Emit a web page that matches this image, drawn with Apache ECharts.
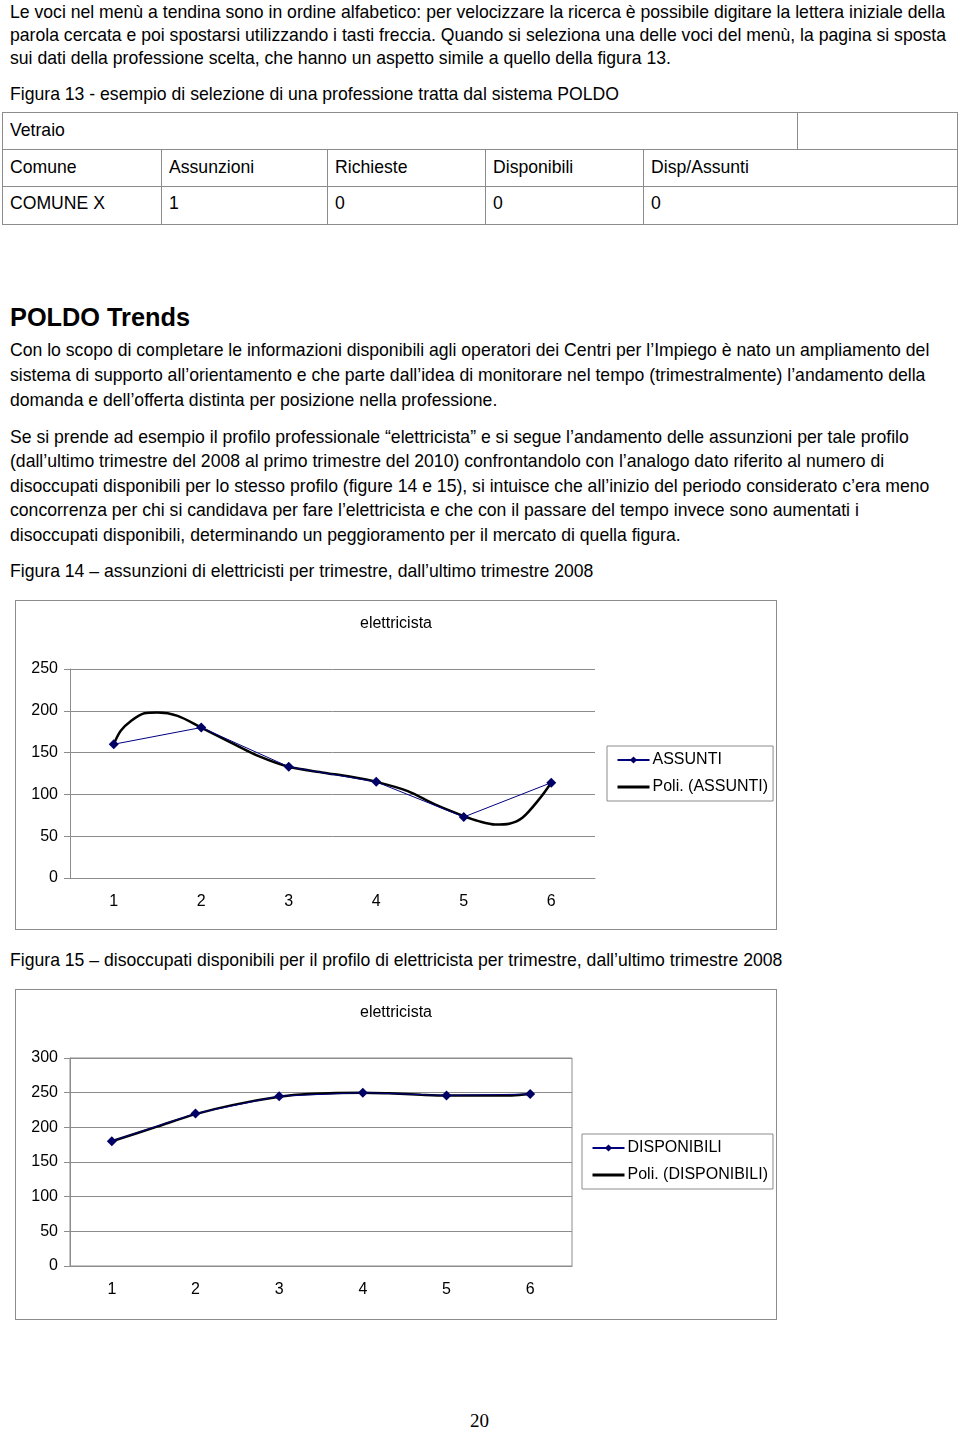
<!DOCTYPE html>
<html>
<head>
<meta charset="utf-8">
<script src="https://cdn.jsdelivr.net/npm/echarts@6/dist/echarts.min.js"></script>
<style>
  html, body { margin:0; padding:0; background:#fff; }
  body { width:960px; height:1429px; position:relative; overflow:hidden; font-family:"Liberation Sans", Arial, sans-serif; color:#000; }
  .ln { position:absolute; white-space:nowrap; font-size:19px; line-height:24px; height:24px; transform-origin:0 50%; }
  .bold { font-weight:bold; font-size:25px; line-height:30px; height:30px; }
  .cell { position:absolute; border:1px solid #8c8c8c; box-sizing:border-box; }
  .chartbox { position:absolute; border:1px solid #8c8c8c; box-sizing:border-box; }
  .pg { position:absolute; font-family:"Liberation Serif", serif; font-size:19px; line-height:24px; }
</style>
</head>
<body>
<div id="page"></div>
<div class="chartbox" id="c1" style="left:15px;top:600px;width:762px;height:330px;"></div>
<div class="chartbox" id="c2" style="left:15px;top:989px;width:762px;height:331px;"></div>
<div class="pg" style="left:470px;top:1409px;">20</div>
<script>
// ---------------- data ----------------
const quarters = ['1', '2', '3', '4', '5', '6'];
const assunti = [160, 180, 133, 115, 73, 114];
const disponibili = [180, 220, 245, 250, 246, 248];
const yTicksAssunti = { min: 0, max: 250, step: 50 };
const yTicksDisp = { min: 0, max: 300, step: 50 };
// polynomial trend lines
const trendAssuntiX = [1, 1.08, 1.2, 1.35, 1.5, 1.73, 2, 2.34, 2.65, 3, 3.4, 3.71, 4, 4.36, 4.67, 5, 5.17, 5.36, 5.52, 5.67, 5.86, 6];
const trendAssuntiY = [160, 176, 188, 197, 198, 194, 180, 162, 146, 133, 126, 121, 115, 104, 88, 74, 68, 64, 65, 72, 94, 114];
const trendDispX = [1, 1.54, 2, 2.44, 3, 3.35, 4, 4.31, 4.7, 5, 5.3, 5.78, 6];
const trendDispY = [180, 201, 219, 232, 244, 248, 250, 249, 247, 246, 246, 246, 248];

// ---------------- text ----------------
const lines = [
  [12, 'Le voci nel menù a tendina sono in ordine alfabetico: per velocizzare la ricerca è possibile digitare la lettera iniziale della'],
  [35, 'parola cercata e poi spostarsi utilizzando i tasti freccia. Quando si seleziona una delle voci del menù, la pagina si sposta'],
  [58, 'sui dati della professione scelta, che hanno un aspetto simile a quello della figura 13.'],
  [94, 'Figura 13 - esempio di selezione di una professione tratta dal sistema POLDO'],
  [350, 'Con lo scopo di completare le informazioni disponibili agli operatori dei Centri per l’Impiego è nato un ampliamento del'],
  [375, 'sistema di supporto all’orientamento e che parte dall’idea di monitorare nel tempo (trimestralmente) l’andamento della'],
  [400, 'domanda e dell’offerta distinta per posizione nella professione.'],
  [437, 'Se si prende ad esempio il profilo professionale “elettricista” e si segue l’andamento delle assunzioni per tale profilo'],
  [461, '(dall’ultimo trimestre del 2008 al primo trimestre del 2010) confrontandolo con l’analogo dato riferito al numero di'],
  [486, 'disoccupati disponibili per lo stesso profilo (figure 14 e 15), si intuisce che all’inizio del periodo considerato c’era meno'],
  [510, 'concorrenza per chi si candidava per fare l’elettricista e che con il passare del tempo invece sono aumentati i'],
  [535, 'disoccupati disponibili, determinando un peggioramento per il mercato di quella figura.'],
  [571, 'Figura 14 – assunzioni di elettricisti per trimestre, dall’ultimo trimestre 2008'],
  [960, 'Figura 15 – disoccupati disponibili per il profilo di elettricista per trimestre, dall’ultimo trimestre 2008']
];
const tableCells = [
  [2, 112, 798, 150, 'Vetraio'], [797, 112, 958, 150, ''],
  [2, 149, 162, 187, 'Comune'], [161, 149, 328, 187, 'Assunzioni'], [327, 149, 486, 187, 'Richieste'], [485, 149, 644, 187, 'Disponibili'], [643, 149, 958, 187, 'Disp/Assunti'],
  [2, 186, 162, 225, 'COMUNE X'], [161, 186, 328, 225, '1'], [327, 186, 486, 225, '0'], [485, 186, 644, 225, '0'], [643, 186, 958, 225, '0']
];
const tableTextY = [130, 167, 203];

const page = document.getElementById('page');
const els = [];
function addLine(y, txt, x, cls) {
  const d = document.createElement('div');
  d.className = 'ln' + (cls ? ' ' + cls : '');
  d.textContent = txt;
  d.style.left = x + 'px';
  d.style.top = (y - (cls ? 15 : 12)) + 'px';
  page.appendChild(d);
  return d;
}
lines.forEach(l => els.push(addLine(l[0], l[1], 10)));
tableCells.forEach(c => {
  const d = document.createElement('div');
  d.className = 'cell';
  d.style.left = c[0] + 'px'; d.style.top = c[1] + 'px';
  d.style.width = (c[2] - c[0]) + 'px'; d.style.height = (c[3] - c[1]) + 'px';
  page.appendChild(d);
  if (c[4]) {
    const ty = c[1] < 140 ? tableTextY[0] : (c[1] < 180 ? tableTextY[1] : tableTextY[2]);
    els.push(addLine(ty, c[4], c[0] + 8));
  }
});
const title = addLine(317, 'POLDO Trends', 10, 'bold');

// horizontal compression to match the reference glyph proportions
const w1 = els[0].getBoundingClientRect().width;
const k = 935 / w1;
els.forEach(e => e.style.transform = 'scaleX(' + k + ')');
const wt = title.getBoundingClientRect().width;
title.style.transform = 'scaleX(' + (180 / wt) + ')';

// ---------------- charts ----------------
const FONT = '"Liberation Sans", Arial, sans-serif';
function makeOption(cfg) {
  const polyName = 'Poli. (' + cfg.name + ')';
  return {
    animation: false,
    textStyle: { fontFamily: FONT, color: '#000' },
    title: { text: 'elettricista', left: 'center', top: cfg.titleTop,
      textStyle: { fontSize: 16, fontWeight: 'normal', color: '#000', fontFamily: FONT } },
    grid: Object.assign({ show: cfg.border, borderColor: '#8c8c8c', borderWidth: 1, backgroundColor: 'transparent' }, cfg.grid),
    legend: {
      orient: 'vertical', left: cfg.legendLeft, top: cfg.legendTop,
      padding: [6, 5, 6, 9], itemGap: 11, itemWidth: 32, itemHeight: 9,
      borderColor: '#8c8c8c', borderWidth: 1,
      textStyle: { fontSize: 16, color: '#000', fontFamily: FONT, padding: [0, 0, 0, -2] },
      data: [
        { name: cfg.name },
        { name: polyName, itemStyle: { opacity: 0 }, lineStyle: { color: '#000', width: 3, opacity: 1 } }
      ]
    },
    xAxis: [
      { type: 'category', data: quarters, boundaryGap: true,
        axisLine: { lineStyle: { color: '#8c8c8c', width: 1 } },
        axisTick: { length: 6, lineStyle: { color: '#8c8c8c' } },
        axisLabel: { fontSize: 16, color: '#000', margin: 16, fontFamily: FONT } },
      { type: 'value', min: 0.5, max: 6.5, show: false }
    ],
    yAxis: {
      type: 'value', min: cfg.ticks.min, max: cfg.ticks.max, interval: cfg.ticks.step,
      axisLine: { show: true, lineStyle: { color: '#8c8c8c' } },
      axisTick: { show: true, length: 6, lineStyle: { color: '#8c8c8c' } },
      splitLine: { lineStyle: { color: '#8c8c8c', width: 1 } },
      axisLabel: { fontSize: 16, color: '#000', margin: 12, fontFamily: FONT }
    },
    series: [
      { name: cfg.name, type: 'line', xAxisIndex: 0, data: cfg.values,
        symbol: 'diamond', symbolSize: 10,
        lineStyle: { color: '#000080', width: 1 }, itemStyle: { color: '#000066' }, z: 3 },
      { name: polyName, type: 'line', xAxisIndex: 1,
        data: cfg.tx.map((x, i) => [x, cfg.ty[i]]),
        symbol: 'none', smooth: 0.3,
        lineStyle: { color: '#000', width: 2.5 }, itemStyle: { color: '#000' }, z: 2 }
    ]
  };
}
const ch1 = echarts.init(document.getElementById('c1'), null, { renderer: 'canvas' });
ch1.setOption(makeOption({
  name: 'ASSUNTI', values: assunti, tx: trendAssuntiX, ty: trendAssuntiY, ticks: yTicksAssunti,
  grid: { left: 54, right: 181, top: 68, bottom: 51 }, titleTop: 10, border: false,
  legendLeft: 591, legendTop: 145
}));
const ch2 = echarts.init(document.getElementById('c2'), null, { renderer: 'canvas' });
ch2.setOption(makeOption({
  name: 'DISPONIBILI', values: disponibili, tx: trendDispX, ty: trendDispY, ticks: yTicksDisp,
  grid: { left: 54, right: 204, top: 68, bottom: 53 }, titleTop: 10, border: true,
  legendLeft: 566, legendTop: 144
}));
</script>
</body>
</html>
